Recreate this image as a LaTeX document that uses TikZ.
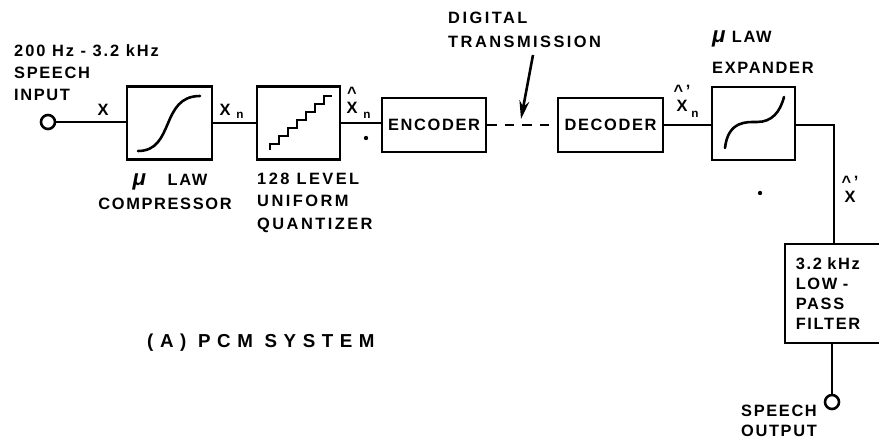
\documentclass[tikz,border=0pt]{standalone}
\usepackage{fontspec}
\setmainfont{Liberation Sans}[LetterSpace=10]
\usepackage{tikz}
\usetikzlibrary{arrows.meta}

\tikzset{
    blockbox/.style={draw, line width=2.2pt, inner sep=0pt},
    terminal/.style={draw, circle, line width=2.2pt, minimum size=0.42cm, inner sep=0pt},
    lbl/.style={font=\fontsize{14}{17}\selectfont\bfseries, inner sep=0pt},
    lblwide/.style={font=\fontsize{14}{17}\selectfont\bfseries\addfontfeature{LetterSpace=15}, inner sep=0pt},
    hatlbl/.style={font=\fontsize{14}{13}\selectfont\bfseries, inner sep=0pt, align=center},
    sub/.style={font=\fontsize{10}{10}\selectfont\bfseries, inner sep=0pt},
    wire/.style={line width=2.2pt},
    speck/.style={fill, circle, inner sep=0pt, minimum size=0.13cm},
}

\begin{document}
\begin{tikzpicture}[>=stealth, x=0.03cm, y=-0.03cm]
    \useasboundingbox (0,0) rectangle (879,440);

    % blocks along the signal path
    \node[terminal] (input) at (48,122) {};
    \node[blockbox, minimum width=2.55cm, minimum height=2.2cm] (compressor) at (169.5,123) {};
    \node[blockbox, minimum width=2.5cm, minimum height=2.2cm] (quantizer) at (298.5,123) {};
    \node[blockbox, lbl, minimum width=3.12cm, minimum height=1.62cm] (encoder) at (434,125) {ENCODER};
    \node[blockbox, lbl, minimum width=3.15cm, minimum height=1.62cm] (decoder) at (610.5,125) {DECODER};
    \node[blockbox, minimum width=2.5cm, minimum height=2.2cm] (expander) at (753.5,123.5) {};
    \node[blockbox, lbl, align=left, minimum width=2.85cm, minimum height=2.97cm, text width=2.2cm] (filter) at (832.5,293.5) {3.2 kHz\\LOW -\\PASS\\FILTER};
    \node[terminal] (output) at (832,402) {};
    \coordinate (corner) at (834,125);

    % connectors
    \draw[wire] (input) -- (compressor.west |- input);
    \draw[wire] (compressor) -- (quantizer);
    \draw[wire] (quantizer) -- (encoder.west |- quantizer);
    \draw[wire, dash pattern=on 8pt off 7pt] (encoder) -- (decoder);
    \draw[wire] (decoder) -- (expander.west |- decoder);
    \draw[wire] (expander.east |- corner) -- (corner) -- (corner |- filter.north);
    \draw[wire] (output.north |- filter.south) -- (output);

    % pointer to the dashed link
    \node[lblwide, align=left, anchor=north west] (digital) at (448,12) {DIGITAL\\[3pt]TRANSMISSION};
    \coordinate (pointerstart) at (533,55);
    \coordinate (linkpoint) at (521,119);
    \draw[-{Stealth[length=0.55cm, width=0.3cm]}, wire] (pointerstart) -- (linkpoint);

    % transfer curves
    \draw[wire, line cap=round] (138,151) .. controls (175,151) and (160,96) .. (200,96);
    \draw[wire, line cap=round] (725,148) .. controls (728,120) and (748,122) .. (757,122) .. controls (772,122) and (780,112) .. (784,97);
    \draw[line width=1.7pt, line join=miter] (270,150) -- (270,144)
        \foreach \n in {1,...,6} { -- ++(9,0) -- ++(0,-8) } -- ++(8,0) -- (332,96);

    % captions
    \node[lbl, align=left, anchor=north west] (inputlbl) at (14,44) {\addfontfeature{LetterSpace=12}200 Hz - 3.2 kHz\\[2pt]SPEECH\\[2pt]INPUT};
    \node[lbl] (x) at (103,110) {X};
    \node[lbl] (xn) at (225,110) {X};
    \node[sub] (xnsub) at (240,115) {n};
    \node[hatlbl] (xhat) at (352,100) {\textasciicircum\\X};
    \node[sub] (xhatsub) at (367,115) {n};
    \node[lbl, align=center] (compressorlbl) at (165,191.5) {\hspace*{0.3cm}{\fontsize{19}{17}\selectfont\itshape μ}\hspace{0.65cm}LAW\\[4pt]COMPRESSOR};
    \node[lblwide, align=left, anchor=north west] (quantizerlbl) at (257,173) {128 LEVEL\\[2pt]UNIFORM\\[2pt]QUANTIZER};
    \node[hatlbl] (xdec) at (682,98) {\textasciicircum\,'\\X};
    \node[sub] (xdecsub) at (695,114) {n};
    \node[lbl, align=left, anchor=north west] (expanderlbl) at (712,31) {{\fontsize{19}{17}\selectfont\itshape μ} LAW\\[9pt]EXPANDER};
    \node[hatlbl] (xout) at (850,189) {\textasciicircum\,'\\X};
    \node[lbl, align=center, anchor=north] (outputlbl) at (779,405) {SPEECH\\OUTPUT};
    \node[lbl, anchor=west, font=\fontsize{16}{17}\selectfont\bfseries\addfontfeature{LetterSpace=35}] (title) at (147,343) {(A) PCM SYSTEM};

    % marks on the page
    \node[speck] (speckone) at (366,138) {};
    \node[speck] (specktwo) at (760,193) {};
\end{tikzpicture}
\end{document}
